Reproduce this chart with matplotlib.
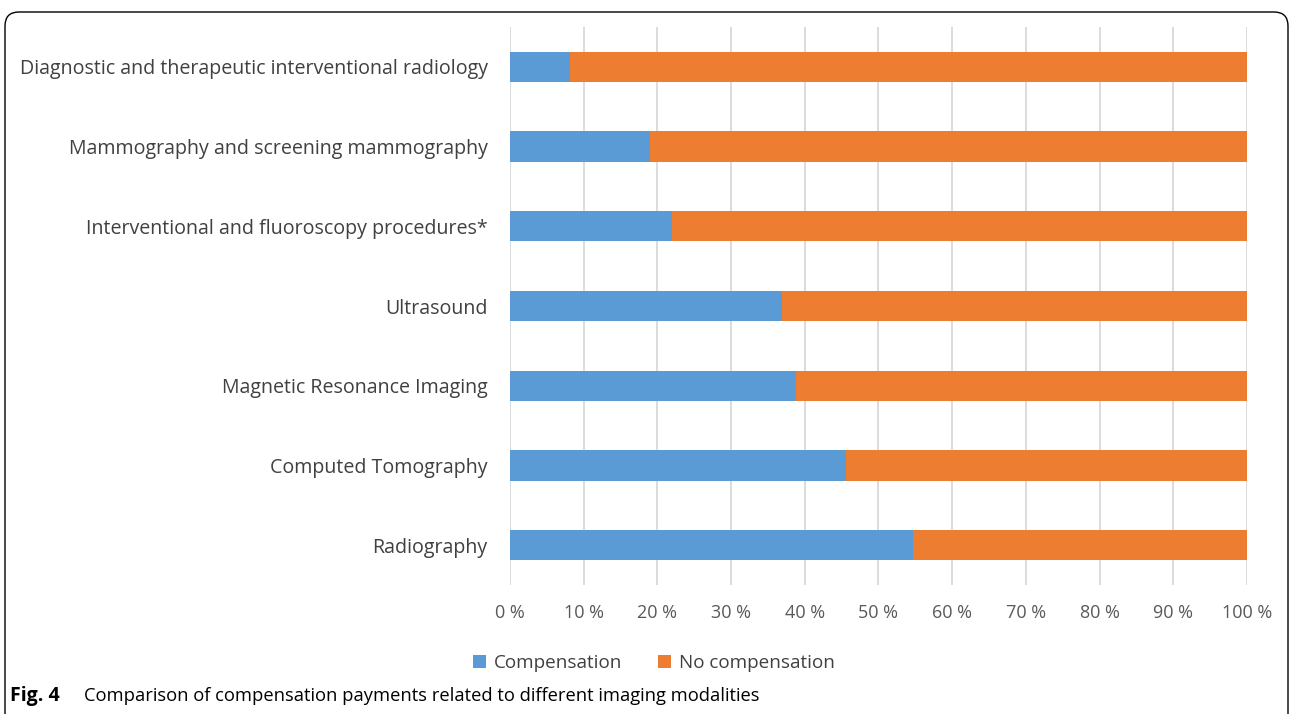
import matplotlib.pyplot as plt
import numpy as np
from matplotlib.patches import FancyBboxPatch

# Datos (de abajo hacia arriba)
categorias = ["Radiography", "Computed Tomography", "Magnetic Resonance Imaging",
              "Ultrasound", "Interventional and fluoroscopy procedures*",
              "Mammography and screening mammography",
              "Diagnostic and therapeutic interventional radiology"]
compensacion = [54.7, 45.6, 38.8, 36.9, 22.0, 19.0, 8.2]
sin_compensacion = [100 - v for v in compensacion]
ticks_x = [0, 10, 20, 30, 40, 50, 60, 70, 80, 90, 100]

AZUL = "#5B9BD5"
NARANJA = "#ED7D31"

plt.rcParams['font.family'] = ['Open Sans', 'DejaVu Sans']

fig = plt.figure(figsize=(12.9, 7.14), dpi=100)
ax = fig.add_axes([510 / 1290, 1 - 585 / 714, 737 / 1290, 558 / 714])

y = np.arange(len(categorias))
ax.barh(y, compensacion, height=0.38, color=AZUL, label="Compensation", zorder=3)
ax.barh(y, sin_compensacion, left=compensacion, height=0.38, color=NARANJA,
        label="No compensation", zorder=3)

ax.set_xlim(0, 100)
ax.set_ylim(-0.5, len(categorias) - 0.5)
ax.set_xticks(ticks_x)
ax.set_xticklabels([f"{t} %" for t in ticks_x], fontsize=13, color="#595959")
ax.set_yticks(y)
ax.set_yticklabels(categorias, fontsize=14.1, color="#404040")
ax.tick_params(axis='both', length=0)
ax.tick_params(axis='y', pad=16)
ax.tick_params(axis='x', pad=14)
ax.grid(axis='x', color="#D9D9D9", linewidth=1.3, zorder=0)
for s in ax.spines.values():
    s.set_visible(False)

fig.legend(loc='center', bbox_to_anchor=(654 / 1290, 1 - 663 / 714), ncol=2,
           frameon=False, fontsize=13.6, handlelength=0.7, handleheight=0.7,
           columnspacing=1.9, handletextpad=0.4, labelcolor="#404040")

# Pie de figura
fig.text(10 / 1290, 1 - 696 / 714, "Fig. 4", fontsize=14, fontweight='bold',
         va='center', ha='left')
fig.text(84 / 1290, 1 - 696 / 714,
         "Comparison of compensation payments related to different imaging modalities",
         fontsize=13.2, va='center', ha='left')

# Marco redondeado (en píxeles)
fig.patches.append(FancyBboxPatch((5, -60), 1283, 762,
                                  boxstyle="round,pad=0,rounding_size=14",
                                  transform=None, fill=False,
                                  edgecolor="black", linewidth=1.0))

fig.savefig("out.png", dpi=100)
